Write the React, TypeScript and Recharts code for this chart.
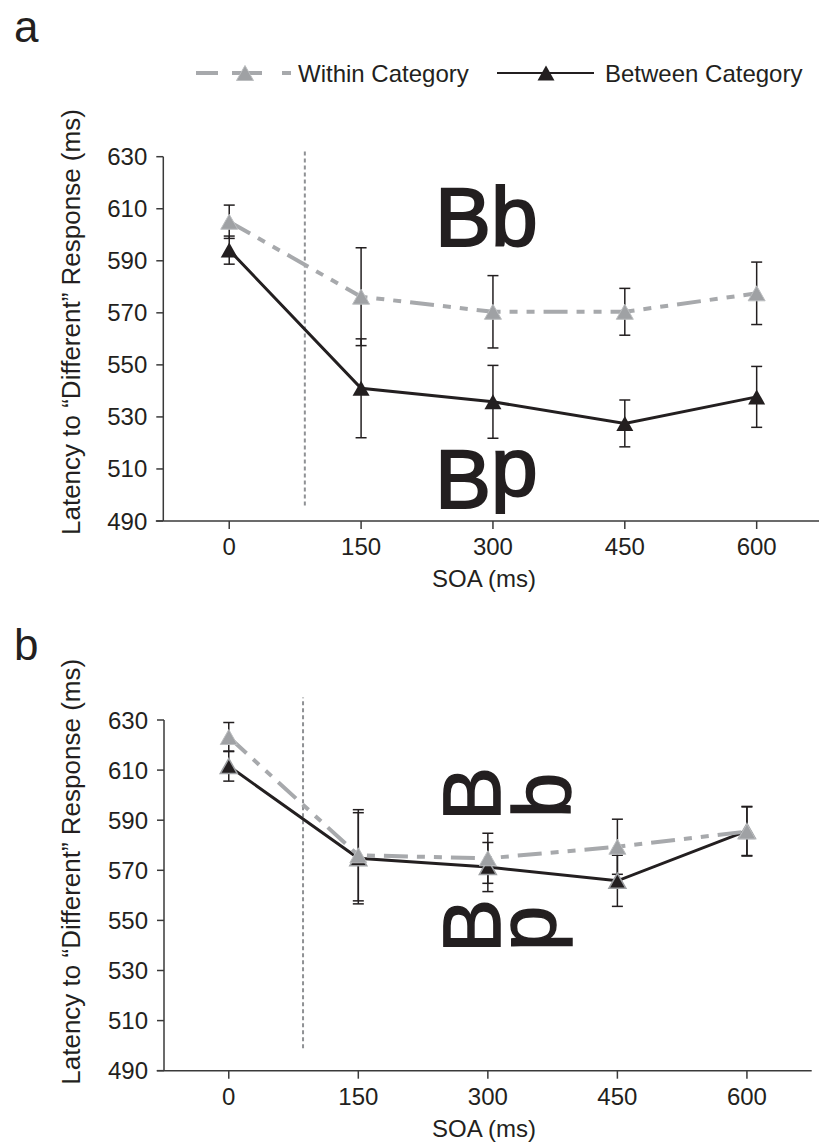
import { LineChart, Line, XAxis, YAxis, ErrorBar, ReferenceLine, Label } from 'recharts'

const soa = [0, 150, 300, 450, 600]
const xTicks = [0, 150, 300, 450, 600]
const yTicks = [490, 510, 530, 550, 570, 590, 610, 630]
const seriesNames = ['Within Category', 'Between Category']
const cueOnset = 86

// panel a
const aWithin = [605, 576.2, 570.4, 570.4, 577.5]
const aWithinErr = [6.4, 18.8, 13.9, 9, 12]
const aBetween = [594.1, 541, 535.8, 527.5, 537.7]
const aBetweenErr = [5.4, 19, 14, 9, 11.7]

// panel b
const bWithin = [623.2, 576, 574.8, 579.4, 585.5]
const bWithinErr = [5.8, 18.2, 10, 11, 9.8]
const bBetween = [611.6, 574.8, 571.3, 565.8, 585.7]
const bBetweenErr = [6, 18.2, 9.8, 10.2, 9.8]

const FONT = '"Liberation Sans", Arial, Helvetica, sans-serif'
const INK = '#231f20'
const GRAY = '#a7a9ac'
const GRAY_DASH = '24 9 8 9 8 9'

function triangleDot(fill: string, stroke: string, sw: number) {
  return (props: any) => {
    const { cx, cy, index } = props
    if (cx == null || cy == null) return <g key={`e-${index}`} />
    const w = 17
    const h = 15
    const pts = `${cx - w / 2},${cy + h / 2} ${cx + w / 2},${cy + h / 2} ${cx},${cy - h / 2}`
    return <polygon key={`t-${index}`} points={pts} fill={fill} stroke={stroke} strokeWidth={sw} />
  }
}

type PanelProps = {
  within: number[]
  withinErr: number[]
  between: number[]
  betweenErr: number[]
  height: number
  top: number
  left: number
  right: number
  xAxisHeight: number
  vline: [number, number]
  betweenStroke: string
}

function Panel(p: PanelProps) {
  const data = soa.map((s, i) => ({
    soa: s,
    within: p.within[i],
    withinErr: p.withinErr[i],
    between: p.between[i],
    betweenErr: p.betweenErr[i],
  }))
  const tickStyle = { fill: INK, fontSize: 24, fontFamily: FONT }

  return (
    <LineChart
      width={830}
      height={p.height}
      data={data}
      margin={{ top: p.top, right: p.right, bottom: 0, left: p.left }}
    >
      <XAxis
        dataKey="soa"
        type="number"
        domain={[-75, 675]}
        ticks={xTicks}
        allowDataOverflow
        height={p.xAxisHeight}
        tickSize={8}
        tickMargin={9}
        tick={tickStyle}
        axisLine={{ stroke: '#3a3a3a', strokeWidth: 1.5 }}
        tickLine={{ stroke: '#3a3a3a', strokeWidth: 1.5 }}
      >
        <Label
          content={(lp: any) => {
            const vb = lp.viewBox
            return (
              <text x={484} y={vb.y + 66} textAnchor="middle" fill={INK} fontSize={24} fontFamily={FONT}>
                SOA (ms)
              </text>
            )
          }}
        />
      </XAxis>
      <YAxis
        type="number"
        domain={[490, 630]}
        ticks={yTicks}
        width={60}
        tickSize={7}
        tickMargin={9}
        tick={tickStyle}
        axisLine={{ stroke: '#3a3a3a', strokeWidth: 1.5 }}
        tickLine={{ stroke: '#3a3a3a', strokeWidth: 1.5 }}
      >
        <Label
          content={(lp: any) => {
            const vb = lp.viewBox
            const y0 = vb.y + vb.height + 14
            return (
              <text
                x={80}
                y={y0}
                transform={`rotate(-90, 80, ${y0})`}
                fill={INK}
                fontSize={26}
                fontFamily={FONT}
              >
                Latency to “Different” Response (ms)
              </text>
            )
          }}
        />
      </YAxis>
      {/* x axis runs a little past the y axis */}
      <ReferenceLine
        segment={[{ x: -83.5, y: 490 }, { x: -75, y: 490 }]}
        stroke="#3a3a3a"
        strokeWidth={1.5}
        ifOverflow="visible"
      />
      <ReferenceLine
        segment={[{ x: cueOnset, y: p.vline[0] }, { x: cueOnset, y: p.vline[1] }]}
        stroke="#8f9194"
        strokeWidth={2}
        strokeDasharray="4 3"
        ifOverflow="visible"
      />
      <Line
        dataKey="between"
        name={seriesNames[1]}
        stroke={INK}
        strokeWidth={3}
        dot={triangleDot(INK, p.betweenStroke, p.betweenStroke === 'none' ? 0 : 1.5)}
        activeDot={false}
        isAnimationActive={false}
      >
        <ErrorBar dataKey="betweenErr" direction="y" width={5.5} stroke={INK} strokeWidth={1.5} isAnimationActive={false} />
      </Line>
      <Line
        dataKey="within"
        name={seriesNames[0]}
        stroke={GRAY}
        strokeWidth={4}
        strokeDasharray={GRAY_DASH}
        dot={triangleDot('#9fa1a4', '#bcbec0', 1)}
        activeDot={false}
        isAnimationActive={false}
      >
        <ErrorBar dataKey="withinErr" direction="y" width={5.5} stroke={INK} strokeWidth={1.5} isAnimationActive={false} />
      </Line>
    </LineChart>
  )
}

function tri(cx: number, cy: number) {
  return `${cx - 8.5},${cy + 7.5} ${cx + 8.5},${cy + 7.5} ${cx},${cy - 7.5}`
}

export default function App() {
  const big = { fill: INK, stroke: INK, strokeWidth: 2, fontFamily: FONT, fontSize: 84 }
  const letter = { fill: INK, stroke: INK, strokeWidth: 1.5, fontFamily: FONT, fontSize: 81 }
  return (
    <div
      style={{
        position: 'absolute',
        top: 0,
        left: 0,
        width: 819,
        height: 1142,
        overflow: 'hidden',
        background: '#fff',
        fontFamily: FONT,
      }}
    >
      <div style={{ position: 'absolute', top: 0, left: 0 }}>
        <Panel
          within={aWithin}
          withinErr={aWithinErr}
          between={aBetween}
          betweenErr={aBetweenErr}
          height={601}
          top={156.7}
          left={103.3}
          right={7.4}
          xAxisHeight={80}
          vline={[496, 632]}
          betweenStroke="none"
        />
      </div>
      <div style={{ position: 'absolute', top: 600, left: 0 }}>
        <Panel
          within={bWithin}
          withinErr={bWithinErr}
          between={bBetween}
          betweenErr={bBetweenErr}
          height={542}
          top={120}
          left={104}
          right={18.3}
          xAxisHeight={71.3}
          vline={[499, 639]}
          betweenStroke="#9d9fa2"
        />
      </div>

      <svg
        width={819}
        height={1142}
        style={{ position: 'absolute', top: 0, left: 0, pointerEvents: 'none' }}
      >
        {/* panel letters */}
        <text x={14} y={42} fontSize={44} fill={INK} fontFamily={FONT}>a</text>
        <text x={14} y={660} fontSize={44} fill={INK} fontFamily={FONT}>b</text>

        {/* legend */}
        <line x1={196} y1={73} x2={291} y2={73} stroke={GRAY} strokeWidth={4} strokeDasharray="22 14 30 20 9" />
        <polygon points={tri(245, 73)} fill="#9fa1a4" stroke="#bcbec0" strokeWidth={1} />
        <text x={298} y={81.5} fontSize={24} fill={INK} fontFamily={FONT}>{seriesNames[0]}</text>
        <line x1={497} y1={73} x2={594} y2={73} stroke={INK} strokeWidth={2} />
        <polygon points={tri(546, 73)} fill={INK} />
        <text x={605} y={81.5} fontSize={24} fill={INK} fontFamily={FONT}>{seriesNames[1]}</text>

        {/* stimulus examples, panel a */}
        <text x={435} y={246} {...big}>Bb</text>
        <text x={435} y={508} {...big}>
          B<tspan dy={-12}>p</tspan>
        </text>

        {/* stimulus examples, panel b (rotated letters) */}
        <text x={500} y={821} transform="rotate(-90, 500, 821)" {...letter}>B</text>
        <text x={570} y={818} transform="rotate(-90, 570, 818)" {...letter}>b</text>
        <text x={500} y={953} transform="rotate(-90, 500, 953)" {...letter}>B</text>
        <text x={555} y={951} transform="rotate(-90, 555, 951)" {...letter}>p</text>
      </svg>
    </div>
  )
}
